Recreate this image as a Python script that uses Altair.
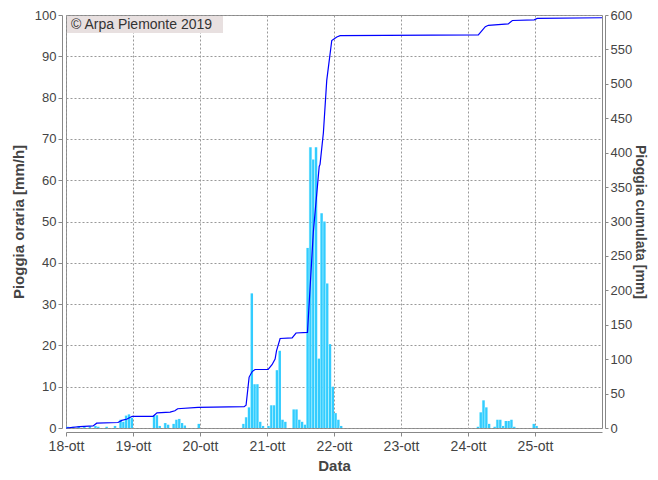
import altair as alt
import pandas as pd

day_labels = ["18-ott", "19-ott", "20-ott", "21-ott", "22-ott", "23-ott", "24-ott", "25-ott"]
day_ticks = [0, 24, 48, 72, 96, 120, 144, 168]

# hourly rain (hours from 18-ott 00:00), mm/h
rain_hours = [0, 2, 4, 6, 8, 10, 11, 14, 17, 19, 20, 21, 22, 23,
              31, 32, 33, 35, 36, 38, 39, 40, 41, 42, 47,
              63, 64, 65, 66, 67, 68, 69, 70,
              72, 73, 74, 75, 76, 77, 78,
              81, 82, 83, 84, 85,
              86, 87, 88, 89, 90, 91, 92, 93, 94, 95, 96, 97, 98,
              147, 148, 149, 150, 151, 153, 154, 155, 156, 157, 158, 159, 160, 167, 168]
rain_mm = [0.3, 0.3, 0.5, 0.3, 0.4, 0.5, 0.3, 0.3, 0.5, 2.0, 1.5, 3.0, 3.3, 2.5,
           3.0, 3.1, 0.5, 1.2, 0.8, 1.0, 2.0, 2.2, 1.2, 0.6, 1.0,
           1.0, 2.6, 5.0, 32.6, 10.6, 10.6, 1.5, 0.5,
           0.5, 5.5, 5.5, 14.0, 18.7, 2.0, 1.5,
           4.5, 4.5, 2.0, 1.5, 0.8,
           43.6, 68.0, 65.0, 68.0, 16.8, 52.0, 50.0, 35.0, 20.3, 10.0, 3.6, 2.0, 0.5,
           0.3, 3.8, 6.7, 5.0, 1.0, 0.3, 2.0, 2.0, 0.5, 1.7, 1.7, 2.0, 0.3, 1.0, 0.5]

# cumulative rain, mm
cum_hours = [0, 5, 9.7, 11, 18.6, 20, 21.9, 23.7, 31.2, 32.6, 37.3, 39, 40, 47.3,
             63.8, 64.5, 65.6, 66.7, 67.7, 72.4, 73.8, 74.9, 75.4, 76.7, 81, 82.4,
             86.5, 88.6, 90.7, 91, 92.2, 93.4, 94.3, 95.2, 97, 98.2,
             147.7, 148.7, 150.2, 151.3, 158.4, 159.9, 167.7, 168.8, 192]
cum_mm = [0, 2, 3, 7, 8, 11, 13, 17, 17, 22, 23, 25, 28, 30,
          31, 33, 74, 82, 85, 85, 92, 100, 112, 130, 131, 138,
          139, 285, 380, 383, 429, 505, 534, 563, 568, 570,
          571, 576, 583, 585, 587, 592, 593, 595, 596]

bars_df = pd.DataFrame({"h": rain_hours, "mm": rain_mm})
cum_df = pd.DataFrame({"h": cum_hours, "mm": cum_mm})

FONT = "Liberation Sans"
AX = "#888888"
x_scale = alt.Scale(domain=[0, 192], nice=False, zero=False)
label_expr = "[" + ",".join("'%s'" % d for d in day_labels) + "][round(datum.value/24)]"

x_axis = alt.Axis(values=day_ticks, labelExpr=label_expr, title="Data", grid=True,
                  gridDash=[2, 2], gridColor="#999999", offset=4, tickSize=4,
                  labelFlush=False, labelPadding=3, titlePadding=5, labelFontSize=14)
left_axis = alt.Axis(values=list(range(0, 101, 10)), title="Pioggia oraria [mm/h]",
                     grid=True, gridDash=[2, 2], gridColor="#999999", offset=4,
                     tickSize=4, labelPadding=2, titlePadding=8)
right_axis = alt.Axis(values=list(range(0, 601, 50)), title="Pioggia cumulata [mm]",
                      orient="right", grid=False, offset=3, tickSize=3,
                      labelPadding=2, titlePadding=1, titleFontSize=14)

grad = alt.Gradient(gradient="linear",
                    stops=[alt.GradientStop(color="#aaf4ff", offset=0),
                           alt.GradientStop(color="#33ccff", offset=0.35),
                           alt.GradientStop(color="#33ccff", offset=1)],
                    x1=0, x2=1, y1=0, y2=0)

bars = alt.Chart(bars_df).transform_calculate(h2="datum.h + 1").mark_bar(
    color=grad, cornerRadius=0
).encode(
    x=alt.X("h:Q", scale=x_scale, axis=x_axis),
    x2="h2:Q",
    y=alt.Y("mm:Q", scale=alt.Scale(domain=[0, 100], nice=False), axis=left_axis),
    y2=alt.datum(0),
)

line = alt.Chart(cum_df).mark_line(color="#0000ff", strokeWidth=1.2).encode(
    x=alt.X("h:Q", scale=x_scale),
    y=alt.Y("mm:Q", scale=alt.Scale(domain=[0, 600], nice=False), axis=right_axis),
)

wm_df = pd.DataFrame({"t": ["© Arpa Piemonte 2019"]})
wm_box = alt.Chart(wm_df).mark_rect(color="#e8e0e0").encode(
    x=alt.value(1), x2=alt.value(157), y=alt.value(1), y2=alt.value(18)
)
wm_text = alt.Chart(wm_df).mark_text(
    align="left", baseline="middle", font=FONT, fontSize=14, color="#333333"
).encode(text="t:N", x=alt.value(5), y=alt.value(10))

chart = alt.layer(bars, line, wm_box, wm_text).resolve_scale(y="independent").properties(
    width=536, height=413,
    autosize=alt.AutoSizeParams(type="none"),
    padding={"left": 58, "top": 7, "right": 48, "bottom": 50},
).configure_view(stroke=AX, strokeWidth=1).configure_axis(
    labelFont=FONT, labelFontSize=13, labelColor="#444444",
    titleFont=FONT, titleFontSize=15, titleFontWeight="bold", titleColor="#444444",
    domainColor=AX, tickColor=AX,
)

chart.save("out.html", embed_options={"renderer": "svg", "actions": False})
